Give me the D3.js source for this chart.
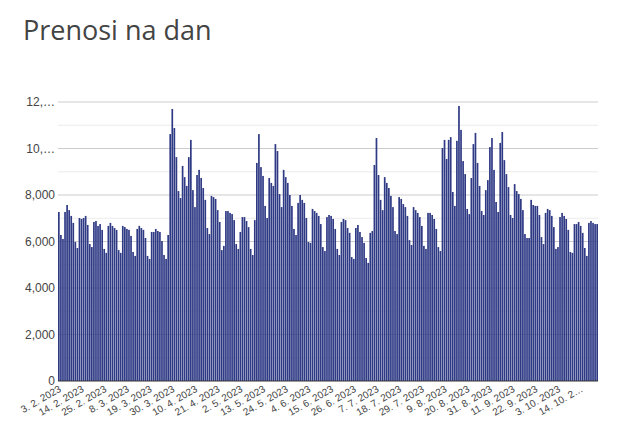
<!DOCTYPE html>
<html><head><meta charset="utf-8">
<script src="https://cdn.jsdelivr.net/npm/d3@7"></script>
<style>body{margin:0;background:#fff;font-family:Arial,"Liberation Sans",sans-serif}</style>
</head><body><svg id="c" width="629" height="445"></svg>
<script>
const startDate = "2023-02-03";
const values = [7270,6280,6110,7270,7570,7350,7100,6800,5980,5720,7010,6970,7010,7100,6710,5890,5760,6840,6880,6670,6750,6500,5680,5510,6670,6800,6670,6580,6500,5630,5510,6670,6620,6540,6500,6240,5550,5380,6540,6670,6580,6500,6150,5380,5250,6410,6410,6540,6450,6410,6020,5420,5250,6280,
10620,11700,10880,9630,8170,7870,9250,8770,8390,9630,10370,8210,7480,8860,9080,8730,8300,7790,6580,6320,7960,7910,7830,7350,6840,5630,5810,7310,7310,7230,7180,6920,5890,5680,6410,7050,7050,6880,6620,5680,5420,6920,9380,10620,9200,8820,7530,7010,8730,8520,8390,10190,9890,8040,7480,9080,8770,8520,8000,7530,6540,6280,7660,8000,7790,7660,7010,5980,5940,
7400,7310,7230,7100,6750,5760,5590,7050,7140,7100,6970,6540,5680,5420,6840,6970,6920,6580,6370,5330,5250,6580,6710,6410,6190,5940,5290,5080,6370,6450,9290,10450,8860,7790,7350,8770,8520,8300,7960,7480,6450,6320,7910,7830,7610,7480,7100,6060,5850,7480,7350,7230,7050,6670,5810,5680,7230,7230,7140,6970,6540,5760,5590,10020,10370,9550,
10370,10490,8130,7530,10330,11830,10800,9460,8900,7400,7180,8730,10190,10670,9380,8390,7310,7140,8210,8640,10060,10450,9080,7700,7270,10240,10710,9500,8900,8340,7140,7010,8470,8170,8040,7830,7350,6320,6150,6150,7790,7570,7530,7530,7140,6190,5890,7230,7400,7350,7100,6620,5680,5760,7050,7230,7100,6970,6500,5550,5510,6750,6750,6840,6670,6370,5720,5380,6800,6880,6800,6750,6750];
const tickLabels = ["3. 2. 2023","14. 2. 2023","25. 2. 2023","8. 3. 2023","19. 3. 2023","30. 3. 2023","10. 4. 2023","21. 4. 2023","2. 5. 2023","13. 5. 2023","24. 5. 2023","4. 6. 2023","15. 6. 2023","26. 6. 2023","7. 7. 2023","18. 7. 2023","29. 7. 2023","9. 8. 2023","20. 8. 2023","31. 8. 2023","11. 9. 2023","22. 9. 2023","3. 10. 2023","14. 10. 2…"];
const yTicks = [0,2000,4000,6000,8000,10000,12000];
const yTickLabels = ["0","2,000","4,000","6,000","8,000","10,…","12,…"];

const svg = d3.select("#c");
const m = {l:58, r:31, t:102, b:64};
const W = 629, H = 445;
const idx = d3.range(values.length);
const x = d3.scaleBand().domain(idx).range([m.l, W-m.r]).paddingInner(0.18).paddingOuter(0);
const y = d3.scaleLinear().domain([0,12000]).range([H-m.b, m.t]);

svg.append("text").attr("x",23).attr("y",40).attr("font-size",27).attr("fill","#444")
  .attr("font-family","'Open Sans',Arial,sans-serif").text("Prenosi na dan");

// minor grid
svg.append("g").selectAll("line").data(d3.range(1000,12000,2000)).join("line")
  .attr("x1",m.l).attr("x2",W-m.r).attr("y1",d=>y(d)).attr("y2",d=>y(d)).attr("stroke","#ebebeb");
svg.append("g").selectAll("line").data(yTicks.slice(1)).join("line")
  .attr("x1",m.l).attr("x2",W-m.r).attr("y1",d=>y(d)).attr("y2",d=>y(d)).attr("stroke","#ccc");

svg.append("g").selectAll("rect").data(values).join("rect")
  .attr("x",(d,i)=>x(i)).attr("width",x.bandwidth())
  .attr("y",d=>y(d)).attr("height",d=>y(0)-y(d)).attr("fill","#2f3a85");

svg.append("line").attr("x1",m.l).attr("x2",W-m.r).attr("y1",y(0)).attr("y2",y(0)).attr("stroke","#333");

svg.append("g").selectAll("text").data(yTicks).join("text")
  .attr("x",m.l-3).attr("y",d=>y(d)+4).attr("text-anchor","end").attr("font-size",12).attr("fill","#444")
  .text((d,i)=>yTickLabels[i]);

svg.append("g").selectAll("text").data(tickLabels).join("text")
  .attr("transform",(d,i)=>`translate(${x(i*11)+x.bandwidth()/2+3},${y(0)+10}) rotate(-30)`)
  .attr("text-anchor","end").attr("font-size",10).attr("fill","#444").text(d=>d);
</script></body></html>
